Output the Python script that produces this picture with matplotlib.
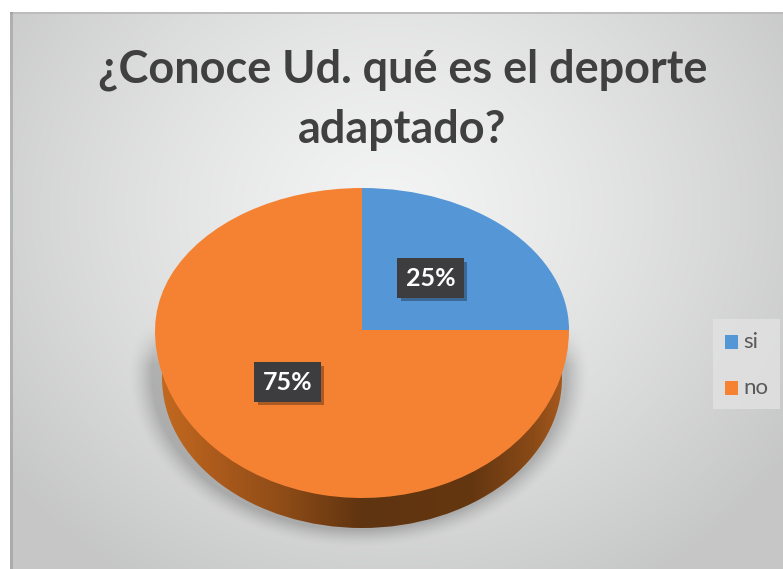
import numpy as np
import matplotlib
matplotlib.use("Agg")
import matplotlib.pyplot as plt
import matplotlib.patheffects as pe
from matplotlib.colors import LinearSegmentedColormap
from matplotlib.patches import Ellipse, Rectangle

title = "¿Conoce Ud. qué es el deporte\nadaptado?"
categories = ["si", "no"]
values = [25, 75]
colors = ["#5596D6", "#F58233"]
label_xy = [(0.331, 0.366), (-0.36, -0.31)]

W, H = 783, 569
fig = plt.figure(figsize=(W / 100, H / 100), dpi=100, facecolor="white")

# background panel (pixel coordinates)
bg = fig.add_axes([0, 0, 1, 1])
yy, xx = np.mgrid[0:H, 0:W] + 0.5
cx, cy, rx = 362.0, 330.0, 207.0
ry_top, ry_bot = 142.0, 168.0           # the disc is seen in perspective
sx, sy, srx, sry = 362.0, 378.0, 200.0, 150.0   # lower rim of the disc
dist = np.hypot((xx - 390) / 1.0, (yy - 210) / 0.9)
shade = 0.955 - 0.175 * np.clip(dist / 480, 0, 1) ** 1.3
# soft shadow beneath the disc
sd = (np.hypot((xx - sx + 3) / (srx + 7), (yy - sy + 3) / (sry + 5)) - 1) * sry
sa = np.clip(1 - sd / 17, 0, 1) ** 1.5 * 0.2
sa *= np.clip((yy - 325) / 40, 0, 1)
shade = shade * (1 - sa)
rgb = np.dstack([shade * 0.998, shade, shade * 1.002]).clip(0, 1)
# edge darkening of the panel
rgb[yy < 14] = np.minimum(rgb[yy < 14], 0.74)
edge = xx < 13
rgb[edge] = rgb[edge] * 0.86
rgb[(xx < 10) | (yy < 12)] = 1.0
bg.imshow(rgb, extent=(0, W, H, 0), aspect="auto", interpolation="bilinear", zorder=0)

# side of the disc
cm = LinearSegmentedColormap.from_list(
    "side", [(0, "#c2681f"), (0.12, "#ae5c1c"), (0.3, "#8f4c17"), (0.5, "#5f3410"),
             (0.78, "#653711"), (0.93, "#8a4a17"), (1, "#a5581c")])
im = bg.imshow(np.linspace(0, 1, 256)[None, :], cmap=cm, aspect="auto", zorder=1,
               extent=(sx - srx, sx + srx, sy + sry, sy - sry))
rim = Ellipse((sx, sy), 2 * srx, 2 * sry, fc="none", ec="none", transform=bg.transData)
bg.add_patch(rim)
im.set_clip_path(rim)
bg.set_xlim(0, W); bg.set_ylim(H, 0); bg.axis("off")

# title
bg.text(402.5, 100, title, ha="center", va="center", fontsize=32.4, family="Lato",
        fontweight="bold", color="#404040", linespacing=1.52, zorder=3)

# legend
bg.add_patch(Rectangle((713, 319), 67, 90, fc="#e2e2e2", ec="none", alpha=0.8, zorder=2))
for (y0, col, lab) in zip((335, 381), colors, categories):
    bg.add_patch(Rectangle((725, y0), 13, 14, fc=col, ec="none", zorder=3))
    bg.text(743, y0 + 6.5, lab, va="center", ha="left", fontsize=16, family="Lato",
            color="#595959", zorder=3)

# pie
ax = fig.add_axes([(cx - rx) / W, 1 - (cy + ry_bot) / H, 2 * rx / W, (ry_top + ry_bot) / H], zorder=2)
ax.patch.set_alpha(0)
wedges, _, autos = ax.pie(values, colors=colors, startangle=90, counterclock=False,
                          radius=1, autopct="%d%%", pctdistance=0.5,
                          wedgeprops=dict(linewidth=0, zorder=2),
                          textprops=dict(color="white", fontsize=18, family="Lato",
                                         fontweight="bold", zorder=5))
k = ry_bot / ry_top
fwd = lambda y: np.where(np.asarray(y) < 0, np.asarray(y) * k, y)
inv = lambda y: np.where(np.asarray(y) < 0, np.asarray(y) / k, y)
ax.set_aspect("auto")
ax.set_yscale("function", functions=(fwd, inv))
ax.set_xlim(-1, 1); ax.set_ylim(-1, 1)
ax.axis("off")
for a, xy in zip(autos, label_xy):
    a.set_position(xy)
    a.set_bbox(dict(boxstyle="square,pad=0.33", fc="#3d3d3f", ec="none"))
    a.get_bbox_patch().set_path_effects(
        [pe.withSimplePatchShadow(offset=(2.5, -2.5), shadow_rgbFace="#000000", alpha=0.3)])

fig.savefig("out.png", dpi=100, facecolor="white")
